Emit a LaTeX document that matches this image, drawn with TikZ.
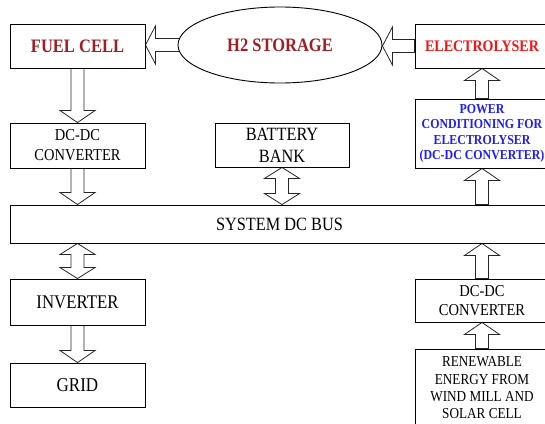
\documentclass[tikz,border=0pt]{standalone}
\usepackage{fontspec}
\usepackage{graphicx}
\setmainfont{Liberation Serif}
\usetikzlibrary{calc,shapes.geometric}
\definecolor{fcred}{RGB}{160,30,35}
\definecolor{elred}{RGB}{245,20,20}
\definecolor{pcblue}{RGB}{30,30,245}
\pgfdeclarelayer{bg}
\pgfsetlayers{bg,main}
\newcommand\tl[1]{\scalebox{1}[1.15]{#1}}
\tikzset{
  blk/.style={draw=black, line width=0.9pt, rectangle, fill=white, align=center, inner sep=0pt},
  storage/.style={draw=black, line width=0.9pt, ellipse, fill=white, inner sep=0pt, minimum width=204pt, minimum height=76pt},
  hol/.style={draw=black!85, line width=0.8pt, fill=white, line join=miter},
  fs/.style n args={2}{font=\fontsize{#1}{#2}\selectfont},
}
% single hollow arrow, vertical, tip at #2
\newcommand\vsarrow[2]{%
  \draw[hol] let \p1=(#1), \p2=(#2), \n1={(\y2-\y1)/abs(\y2-\y1)} in
  ({\x1-6.5pt},\y1) -- ({\x1-6.5pt},{\y2-\n1*12pt}) -- ({\x1-17.5pt},{\y2-\n1*12pt}) -- (\x1,\y2)
  -- ({\x1+17.5pt},{\y2-\n1*12pt}) -- ({\x1+6.5pt},{\y2-\n1*12pt}) -- ({\x1+6.5pt},\y1) -- cycle;}
% double hollow arrow, vertical
\newcommand\vdarrow[2]{%
  \draw[hol] let \p1=(#1), \p2=(#2), \n1={(\y2-\y1)/abs(\y2-\y1)} in
  (\x1,\y1) -- ({\x1+17.5pt},{\y1+\n1*11pt}) -- ({\x1+6.5pt},{\y1+\n1*11pt}) -- ({\x1+6.5pt},{\y2-\n1*11pt})
  -- ({\x1+17.5pt},{\y2-\n1*11pt}) -- (\x1,\y2) -- ({\x1-17.5pt},{\y2-\n1*11pt}) -- ({\x1-6.5pt},{\y2-\n1*11pt})
  -- ({\x1-6.5pt},{\y1+\n1*11pt}) -- ({\x1-17.5pt},{\y1+\n1*11pt}) -- cycle;}
% single hollow arrow, horizontal, tip at #2
\newcommand\hsarrow[2]{%
  \draw[hol] let \p1=(#1), \p2=(#2), \n1={(\x2-\x1)/abs(\x2-\x1)} in
  (\x1,{\y1-6.5pt}) -- ({\x2-\n1*10pt},{\y1-6.5pt}) -- ({\x2-\n1*10pt},{\y1-19pt}) -- (\x2,\y1)
  -- ({\x2-\n1*10pt},{\y1+19pt}) -- ({\x2-\n1*10pt},{\y1+6.5pt}) -- (\x1,{\y1+6.5pt}) -- cycle;}
\begin{document}
\begin{tikzpicture}[x=1pt,y=-1pt]
\useasboundingbox (0,0) rectangle (545,423);
\node[blk, minimum width=135pt, minimum height=44pt, fs={16.5}{20}, text=fcred] (fc) at (77.5,46) {\tl{\bfseries FUEL CELL}};
\node[storage, fs={16.5}{20}, text=fcred] (stor) at (280,45) {\tl{\bfseries H2 STORAGE}};
\node[blk, minimum width=134pt, minimum height=44pt, fs={14}{17}, text=elred] (el) at (482,46) {\tl{\bfseries ELECTROLYSER}};
\node[blk, minimum width=134pt, minimum height=69pt, fs={11.9}{15.5}, text=pcblue] (pc) at (482,133.5)
  {\tl{\bfseries POWER}\\\tl{\bfseries CONDITIONING FOR}\\\tl{\bfseries ELECTROLYSER}\\\tl{\bfseries (DC-DC CONVERTER)}};
\node[blk, minimum width=135pt, minimum height=45pt, fs={14.5}{20}] (dc1) at (77.5,145.5) {\tl{DC-DC}\\\tl{CONVERTER}};
\node[blk, minimum width=134pt, minimum height=44pt, fs={16.3}{22}] (bat) at (282,145) {\tl{BATTERY}\\\tl{BANK}};
\node[blk, minimum width=539pt, minimum height=38pt, fs={16.3}{18}] (bus) at (279.5,224) {\tl{SYSTEM DC BUS}};
\node[blk, minimum width=135pt, minimum height=46pt, fs={16.8}{20}] (inv) at (77.5,302) {\tl{INVERTER}};
\node[blk, minimum width=135pt, minimum height=44pt, fs={17}{20}] (grid) at (77.5,385) {\tl{GRID}};
\node[blk, minimum width=134pt, minimum height=43pt, fs={14.5}{19}] (dc2) at (482,300.5) {\tl{DC-DC}\\\tl{CONVERTER}};
\node[blk, minimum width=134pt, minimum height=78pt, fs={13.2}{17.3}] (ren) at (482,388)
  {\tl{RENEWABLE}\\\tl{ENERGY FROM}\\\tl{WIND MILL AND}\\\tl{SOLAR CELL}};
\begin{pgfonlayer}{bg}
\hsarrow{[xshift=3pt]stor.west}{fc.east}
\hsarrow{el.west}{stor.east}
\vsarrow{fc.south}{dc1.north}
\vsarrow{dc1.south}{dc1.south |- bus.north}
\vdarrow{bat.south}{bat.south |- bus.north}
\vdarrow{bus.south -| inv.north}{inv.north}
\vsarrow{inv.south}{grid.north}
\vsarrow{ren.north}{dc2.south}
\vsarrow{dc2.north}{dc2.north |- bus.south}
\vsarrow{pc.south |- bus.north}{pc.south}
\vsarrow{pc.north}{el.south}
\end{pgfonlayer}
\end{tikzpicture}
\end{document}
